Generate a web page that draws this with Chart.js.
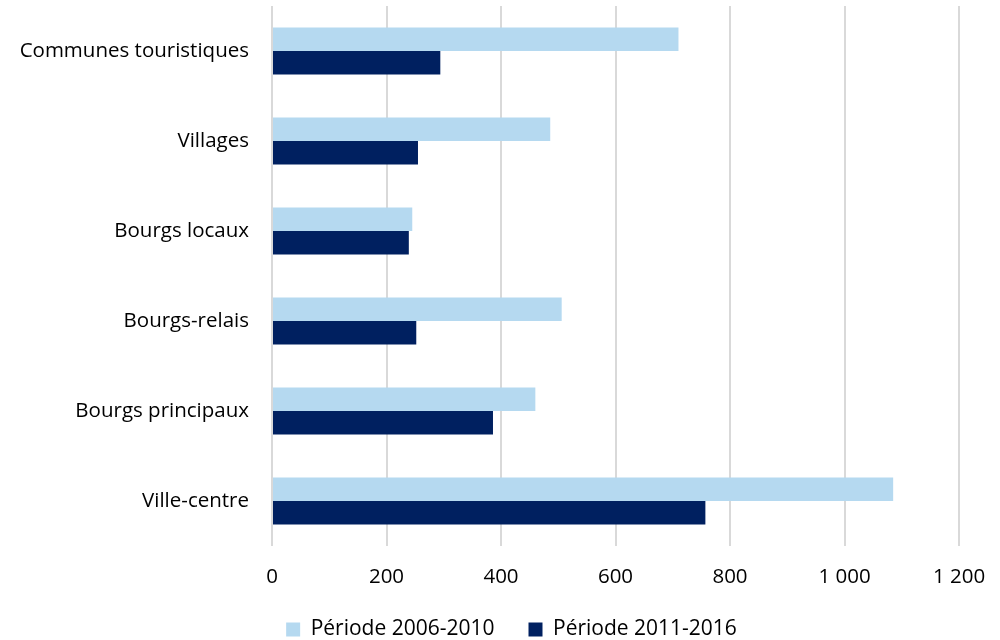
<!DOCTYPE html>
<html>
<head>
<meta charset="utf-8">
<script src="https://cdn.jsdelivr.net/npm/chart.js@4/dist/chart.umd.min.js"></script>
<style>
  html, body { margin: 0; padding: 0; background: #fff; overflow: hidden; }
  #wrap { width: 1000px; height: 650px; position: relative; }
</style>
</head>
<body>
<div id="wrap"><canvas id="chart"></canvas></div>
<script>
const categories = ['Communes touristiques', 'Villages', 'Bourgs locaux', 'Bourgs-relais', 'Bourgs principaux', 'Ville-centre'];
const period1 = [710, 486, 245, 506, 460, 1085];
const period2 = [294, 255, 239, 252, 386, 757];
const seriesNames = ['Période 2006-2010', 'Période 2011-2016'];

const fontFamily = "'Open Sans', sans-serif";
const fmt = v => String(v).replace(/\B(?=(\d{3})+(?!\d))/g, ' ');

new Chart(document.getElementById('chart'), {
    type: 'bar',
    data: {
        labels: categories,
        datasets: [
            { label: seriesNames[0], data: period1, backgroundColor: '#b5d9f0' },
            { label: seriesNames[1], data: period2, backgroundColor: '#002060' }
        ]
    },
    options: {
        indexAxis: 'y',
        responsive: true,
        maintainAspectRatio: false,
        animation: false,
        // negative right padding pushes the legend centre right; x axis keeps the plot edge
        layout: { padding: { top: 6, left: 0, right: -23, bottom: 0 } },
        datasets: { bar: { barPercentage: 1, categoryPercentage: 0.52 } },
        scales: {
            x: {
                min: 0,
                max: 1200,
                ticks: {
                    stepSize: 200,
                    padding: 19,
                    color: '#000',
                    font: { family: fontFamily, size: 20.5 },
                    callback: v => fmt(v)
                },
                grid: { color: '#d9d9d9', lineWidth: 2, drawTicks: false },
                border: { display: false },
                afterFit: s => {
                    s.height = 39;
                    s.paddingRight = 41;
                }
            },
            y: {
                ticks: {
                    padding: 23,
                    color: '#000',
                    font: { family: fontFamily, size: 20.5 }
                },
                grid: { display: false, drawTicks: false },
                border: { display: false },
                afterFit: s => {
                    s.width = 272;
                    s.paddingTop = 0;
                    s.paddingBottom = 0;
                }
            }
        },
        plugins: {
            legend: {
                position: 'bottom',
                labels: {
                    boxWidth: 14,
                    boxHeight: 14,
                    padding: 34,
                    color: '#000',
                    font: { family: fontFamily, size: 21 }
                }
            },
            tooltip: { enabled: false }
        }
    }
});
</script>
</body>
</html>
